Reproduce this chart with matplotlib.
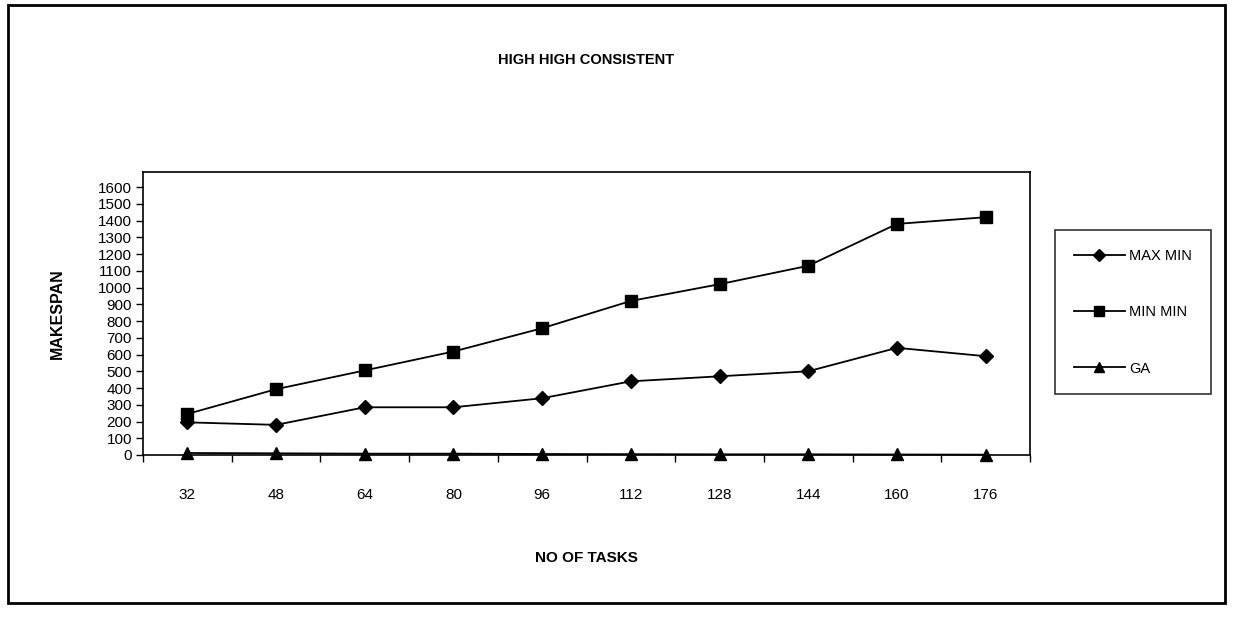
import matplotlib
matplotlib.use("Agg")
import matplotlib.pyplot as plt
from matplotlib.patches import Rectangle
from matplotlib.ticker import FixedLocator

plt.rcParams["font.family"] = ["Liberation Sans", "DejaVu Sans"]

# Data
tasks = ["32", "48", "64", "80", "96", "112", "128", "144", "160", "176"]
max_min = [195, 180, 285, 285, 339, 440, 470, 500, 640, 590]
min_min = [245, 393, 505, 618, 757, 920, 1020, 1130, 1380, 1420]
ga = [12, 10, 8, 8, 6, 5, 4, 4, 3, 2]

fig = plt.figure(figsize=(12.38, 6.23), dpi=100)

# Scanned outer frame
fig.patches.append(Rectangle((8 / 1238, 1 - 603 / 623), 1217 / 1238, 598 / 623,
                             transform=fig.transFigure, fill=False,
                             edgecolor="black", linewidth=2))

ax = fig.add_axes([143 / 1238, 1 - 455 / 623, 887 / 1238, 283 / 623])
x = list(range(len(tasks)))

ax.plot(x, max_min, color="black", marker="D", markersize=7, linewidth=1.3,
        label="MAX MIN", clip_on=False)
ax.plot(x, min_min, color="black", marker="s", markersize=9, linewidth=1.3,
        label="MIN MIN", clip_on=False)
ax.plot(x, ga, color="black", marker="^", markersize=9, linewidth=1.3,
        label="GA", clip_on=False)

ax.set_xlim(-0.5, len(tasks) - 0.5)
ax.set_ylim(0, 1690)
ax.set_yticks(range(0, 1700, 100))
ax.set_yticklabels([str(v) for v in range(0, 1700, 100)], fontsize=11)
ax.tick_params(axis="y", direction="out", length=5, width=1, pad=3)

# category labels centred, tick marks between categories
ax.xaxis.set_major_locator(FixedLocator([i + 0.5 for i in range(-1, len(tasks))]))
ax.set_xticklabels([])
ax.xaxis.set_minor_locator(FixedLocator(x))
ax.set_xticklabels(tasks, minor=True, fontsize=11)
ax.tick_params(axis="x", which="major", direction="out", length=5, width=1)
ax.tick_params(axis="x", which="minor", length=0, pad=24)

for s in ax.spines.values():
    s.set_linewidth(1.2)

ax.set_title("HIGH HIGH CONSISTENT", fontsize=10.5, fontweight="bold", pad=78)
ax.set_ylabel("MAKESPAN", fontsize=11.5, fontweight="bold", labelpad=24)
ax.set_xlabel("NO OF TASKS", fontsize=11, fontweight="bold", labelpad=35)

leg = fig.legend(loc="upper left", bbox_to_anchor=(1055 / 1238, 1 - 230 / 623),
                 borderaxespad=0, frameon=True, fancybox=False, edgecolor="black",
                 fontsize=10.5, handlelength=3.5, labelspacing=2.9, borderpad=1.3,
                 handletextpad=0.3, markerscale=0.85)
leg.get_frame().set_linewidth(1.2)

fig.savefig("out.png", dpi=100)
